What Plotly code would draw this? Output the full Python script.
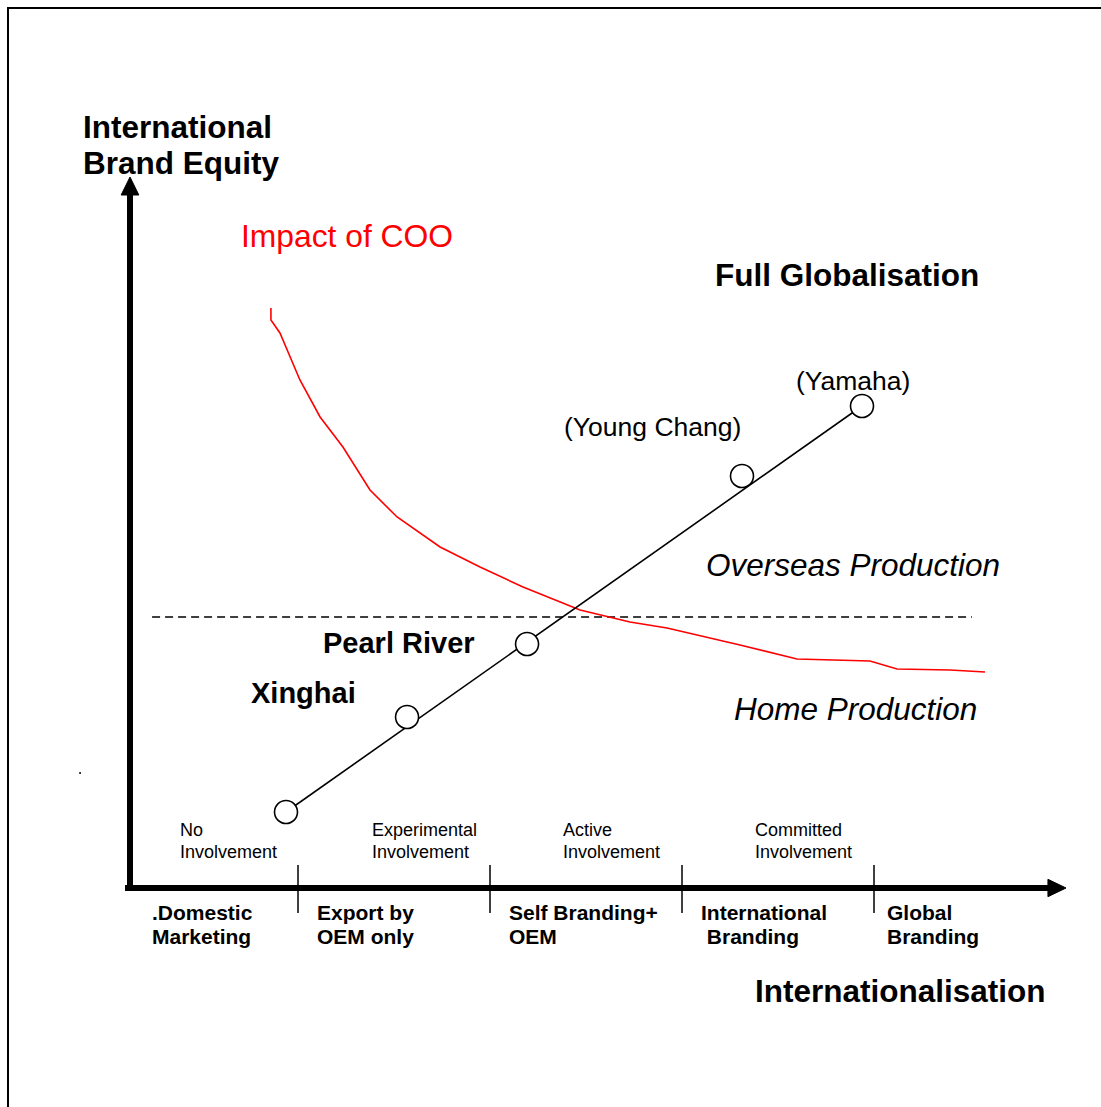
import plotly.graph_objects as go

# ---------------- data (diagram units: x = internationalisation stage, y = brand equity) --------------
stage_labels = [[".Domestic", "Marketing"], ["Export by", "OEM only"], ["Self Branding+", "OEM"],
                ["International", " Branding"], ["Global", "Branding"]]
stage_label_x = [0.234, 1.094, 2.094, 3.094, 4.0625]
stage_bounds = [1, 2, 3, 4]
involvement_labels = [["No", "Involvement"], ["Experimental", "Involvement"],
                      ["Active", "Involvement"], ["Committed", "Involvement"]]
involvement_x = [0.38, 1.38, 2.375, 3.375]

firm_names = ["", "Xinghai", "Pearl River", "(Young Chang)", "(Yamaha)"]
firm_x = [0.9375, 1.568, 2.193, 3.3125, 3.9375]
firm_y = [0.76, 1.71, 2.44, 4.12, 4.82]

coo_x = [0.859, 0.859, 0.906, 0.958, 1.010, 1.115, 1.234, 1.375, 1.516, 1.740, 1.948,
         2.172, 2.469, 2.729, 2.922, 3.302, 3.599, 3.979, 4.120, 4.396, 4.578]
coo_y = [5.80, 5.68, 5.55, 5.31, 5.08, 4.71, 4.41, 3.98, 3.71, 3.41, 3.21,
         3.01, 2.78, 2.66, 2.60, 2.43, 2.29, 2.27, 2.19, 2.18, 2.16]

production_threshold = 2.71
threshold_x = [0.240, 4.510]

# ---------------- figure ----------------
W, H = 1101, 1107
XR = [-106 / 192, (W - 106) / 192]
YR = [(888 - H) / 100, 888 / 100]
FONT = "Arial, Liberation Sans, sans-serif"

fig = go.Figure()

# dashed threshold line
fig.add_trace(go.Scatter(x=threshold_x, y=[production_threshold] * 2, mode="lines",
                         line=dict(color="black", width=1.5, dash="8px,5px"), hoverinfo="skip"))
# COO curve
fig.add_trace(go.Scatter(x=coo_x, y=coo_y, mode="lines",
                         line=dict(color="#ff0000", width=1.6), hoverinfo="skip"))
# firm line
fig.add_trace(go.Scatter(x=[firm_x[0], firm_x[-1]], y=[firm_y[0], firm_y[-1]], mode="lines",
                         line=dict(color="black", width=1.6), hoverinfo="skip"))
# firm circles
fig.add_trace(go.Scatter(x=firm_x, y=firm_y, mode="markers",
                         marker=dict(size=23, color="white", line=dict(color="black", width=1.6)),
                         hoverinfo="skip"))

# axes (arrows)
ax_x0, ax_y0 = 0.125, 0.0
fig.add_trace(go.Scatter(x=[ax_x0, ax_x0], y=[-0.03, 6.95], mode="lines",
                         line=dict(color="black", width=6), hoverinfo="skip"))
fig.add_trace(go.Scatter(x=[0.099, 4.91], y=[ax_y0, ax_y0], mode="lines",
                         line=dict(color="black", width=6), hoverinfo="skip"))
fig.add_trace(go.Scatter(x=[ax_x0 - 0.046, ax_x0 + 0.046, ax_x0, ax_x0 - 0.046],
                         y=[6.93, 6.93, 7.11, 6.93], mode="lines", fill="toself",
                         fillcolor="black", line=dict(color="black", width=1), hoverinfo="skip"))
fig.add_trace(go.Scatter(x=[4.906, 4.906, 5.0, 4.906], y=[-0.087, 0.087, 0.0, -0.087],
                         mode="lines", fill="toself", fillcolor="black",
                         line=dict(color="black", width=1), hoverinfo="skip"))
# stage tick marks
for b in stage_bounds:
    fig.add_trace(go.Scatter(x=[b, b], y=[0.23, -0.25], mode="lines",
                             line=dict(color="black", width=1.5), hoverinfo="skip"))

# stray dot
fig.add_trace(go.Scatter(x=[-0.135], y=[1.15], mode="markers",
                         marker=dict(size=2, color="black"), hoverinfo="skip"))

ann = []


def lab(text, x, y, size, color="black", bold=False, italic=False, xanchor="left"):
    t = text
    if bold:
        t = "<b>" + t + "</b>"
    if italic:
        t = "<i>" + t + "</i>"
    ann.append(dict(text=t, x=x, y=y, xref="x", yref="y", showarrow=False, xanchor=xanchor,
                    yanchor="middle", borderpad=0,
                    font=dict(family=FONT, size=size, color=color)))


lab("International", -0.125, 7.61, 31.5, bold=True)
lab("Brand Equity", -0.125, 7.25, 31.5, bold=True)
lab("Impact of COO", 0.698, 6.52, 31.8, color="#ff0000")
lab("Full Globalisation", 3.167, 6.13, 31.5, bold=True)
lab("Overseas Production", 3.120, 3.23, 31.5, italic=True)
lab("Home Production", 3.266, 1.79, 31.5, italic=True)
lab("Internationalisation", 3.375, -1.03, 31.5, bold=True)

# firm labels
lab(firm_names[4], 3.589, 5.07, 26.5)
lab(firm_names[3], 2.380, 4.61, 26.5)
lab(firm_names[2], 1.125, 2.45, 29, bold=True)
lab(firm_names[1], 0.75, 1.95, 29, bold=True)

for lines, x in zip(stage_labels, stage_label_x):
    lab(lines[0], x, -0.24, 21, bold=True)
    lab(lines[1], x, -0.48, 21, bold=True)
for lines, x in zip(involvement_labels, involvement_x):
    lab(lines[0], x, 0.58, 18)
    lab(lines[1], x, 0.36, 18)

fig.update_layout(
    width=W, height=H, autosize=False,
    margin=dict(l=0, r=0, t=0, b=0, pad=0),
    paper_bgcolor="white", plot_bgcolor="white",
    showlegend=False,
    xaxis=dict(range=XR, visible=False, fixedrange=True),
    yaxis=dict(range=YR, visible=False, fixedrange=True),
    annotations=ann,
    shapes=[dict(type="rect", xref="paper", yref="paper", x0=8 / W, x1=1.2, y0=-0.2,
                 y1=1 - 8 / H, line=dict(color="black", width=2), layer="above")],
)

fig.write_html("out.html", config={"displayModeBar": False},
               post_script="document.body.style.margin='0';document.body.style.overflow='hidden';")
